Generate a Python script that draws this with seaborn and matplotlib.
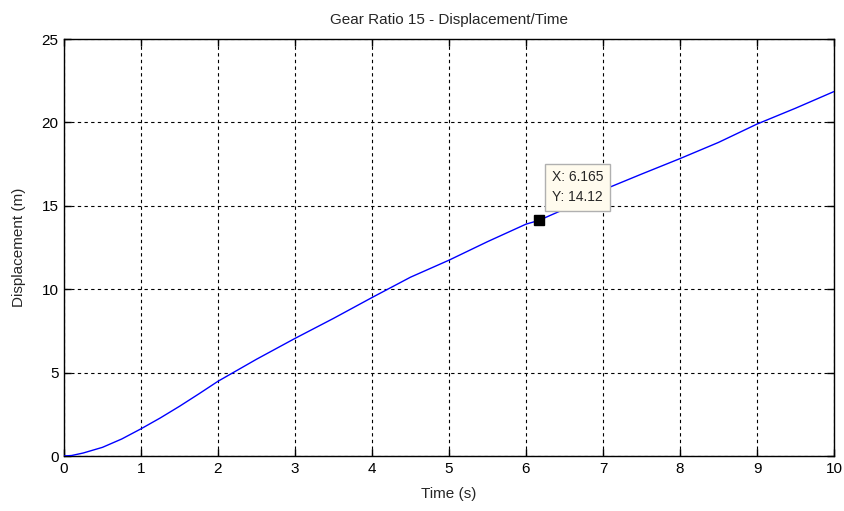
import matplotlib
matplotlib.use("Agg")
import matplotlib.pyplot as plt
import seaborn as sns
import pandas as pd

# Displacement of the vehicle over time for gear ratio 15
time_s = [0, 0.1, 0.25, 0.5, 0.75, 1, 1.25, 1.5, 1.75, 2, 2.5, 3, 3.5, 4,
          4.5, 5, 5.5, 6, 6.165, 6.5, 7, 7.5, 8, 8.5, 9, 9.5, 10]
displacement_m = [0, 0.03, 0.18, 0.52, 1.02, 1.63, 2.28, 2.98, 3.72, 4.48,
                  5.8, 7.05, 8.25, 9.5, 10.72, 11.74, 12.85, 13.9, 14.12,
                  14.8, 15.95, 16.9, 17.83, 18.8, 19.9, 20.85, 21.85]

# Data tip
tip_x = 6.165
tip_y = 14.12

x_ticks = list(range(0, 11))
y_ticks = [0, 5, 10, 15, 20, 25]

sns.set_style("white")
plt.rcParams["font.family"] = ["Liberation Sans", "DejaVu Sans"]
plt.rcParams["font.size"] = 11

df = pd.DataFrame({"Time (s)": time_s, "Displacement (m)": displacement_m})

fig = plt.figure(figsize=(8.44, 5.11), dpi=100)
ax = fig.add_axes([64 / 844, 55 / 511, 770 / 844, 417 / 511])

sns.lineplot(data=df, x="Time (s)", y="Displacement (m)", ax=ax,
             color="#0000ff", linewidth=1.0, zorder=3)

ax.set_xlim(0, 10)
ax.set_ylim(0, 25)
ax.set_xticks(x_ticks)
ax.set_yticks(y_ticks)
ax.grid(True, color="black", linestyle=(0, (3, 3)), linewidth=0.8)
ax.set_axisbelow(True)

for side in ["top", "bottom", "left", "right"]:
    ax.spines[side].set_visible(True)
    ax.spines[side].set_color("black")
    ax.spines[side].set_linewidth(1.0)

ax.tick_params(axis="both", direction="in", length=5, width=1, color="black",
               labelsize=11, labelcolor="black", top=True, right=True,
               bottom=True, left=True, pad=4)

ax.set_title("Gear Ratio 15 - Displacement/Time", fontsize=11, pad=11)
ax.set_xlabel("Time (s)", fontsize=11, labelpad=8)
ax.set_ylabel("Displacement (m)", fontsize=11, labelpad=11)

ax.plot([tip_x], [tip_y], marker="s", markersize=7.5, markerfacecolor="black",
        markeredgecolor="black", linestyle="none", zorder=5)
ax.annotate(f"X: {tip_x}\nY: {tip_y}", xy=(tip_x, tip_y),
            xytext=(13, 50), textcoords="offset pixels",
            ha="left", va="top", fontsize=10, linespacing=1.5,
            bbox=dict(boxstyle="square,pad=0.5", facecolor="#fffbee",
                      edgecolor="#b0b0b0", linewidth=1.0),
            zorder=6)

fig.savefig("out.png", dpi=100, facecolor="white")
